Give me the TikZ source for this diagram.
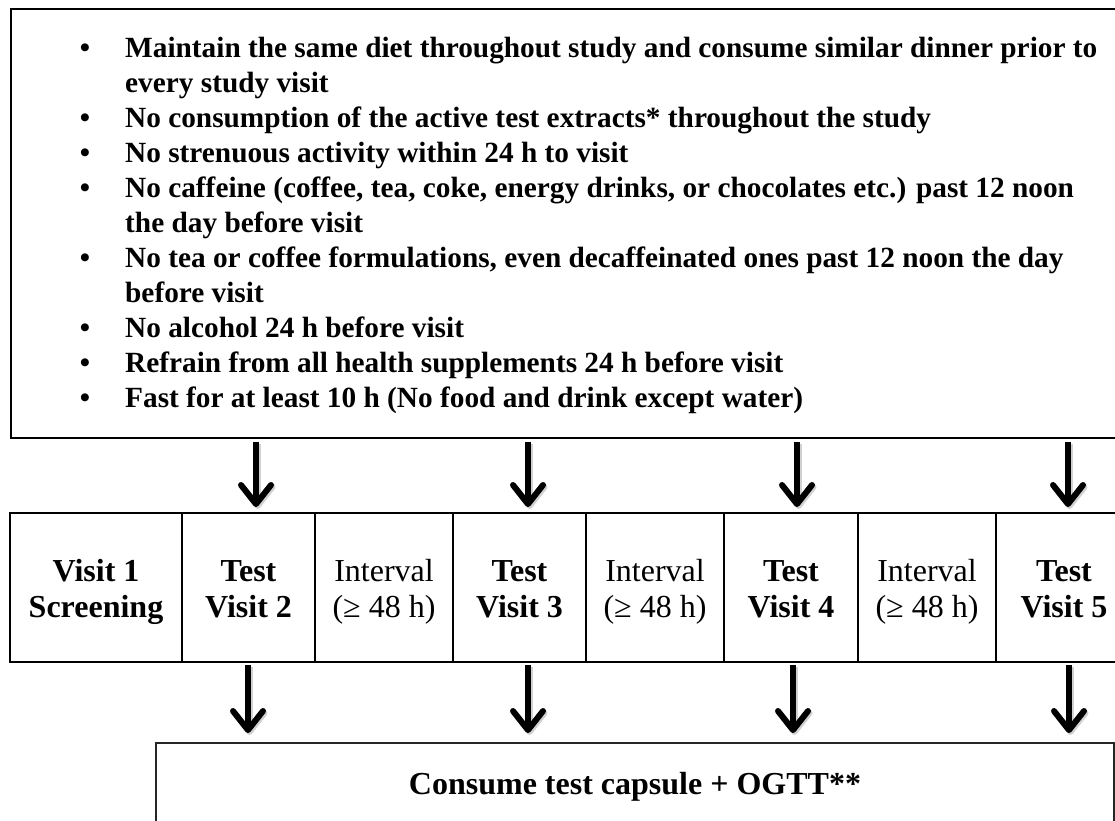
\documentclass[tikz,border=0pt]{standalone}
\usepackage{fontspec}
\setmainfont{Liberation Serif}
\usetikzlibrary{arrows.meta,calc}

\begin{document}
\begin{tikzpicture}[x=1pt,y=-1pt,
  frame/.style={draw=black, line width=2pt, inner sep=0pt, anchor=north west},
  bul/.style={font=\fontsize{29.3}{35}\selectfont\bfseries, inner sep=0pt, anchor=base},
  item/.style={font=\fontsize{29.3}{35}\selectfont\bfseries, inner sep=0pt, anchor=base west},
  cell/.style={draw=black, line width=2pt, minimum height=149pt, inner sep=0pt,
    align=center, text height=60pt, text depth=0pt, font=\fontsize{32}{36}\selectfont},
  visit/.style={cell, font=\fontsize{32}{36}\selectfont\bfseries},
  flow/.style={line width=5.5pt, line cap=butt,
    -{Straight Barb[length=19pt,width=30pt,line width=6pt,round]},
    preaction={draw=black!18, line width=6pt, transform canvas={shift={(1.5pt,-2pt)}}}},
]
\useasboundingbox (0,0) rectangle (1115,820);

% instructions before each visit
\node[frame, minimum width=1115pt, minimum height=429pt] (rules) at (10,8) {};
\node[bul] (b1) at (85,57) {•};
\node[item] (l1) at (125,57) {Maintain the same diet throughout study and consume similar dinner prior to};
\node[item] (l2) at (125,92) {every study visit};
\node[bul] (b3) at (85,127) {•};
\node[item] (l3) at (125,127) {No consumption of the active test extracts* throughout the study};
\node[bul] (b4) at (85,162) {•};
\node[item] (l4) at (125,162) {No strenuous activity within 24 h to visit};
\node[bul] (b5) at (85,197) {•};
\node[item] (l5) at (125,197) {No caffeine (coffee, tea, coke, energy drinks, or chocolates etc.) past 12 noon};
\node[item] (l6) at (125,232) {the day before visit};
\node[bul] (b7) at (85,267) {•};
\node[item] (l7) at (125,267) {No tea or coffee formulations, even decaffeinated ones past 12 noon the day};
\node[item] (l8) at (125,302) {before visit};
\node[bul] (b9) at (85,337) {•};
\node[item] (l9) at (125,337) {No alcohol 24 h before visit};
\node[bul] (b10) at (85,372) {•};
\node[item] (l10) at (125,372) {Refrain from all health supplements 24 h before visit};
\node[bul] (b11) at (85,407) {•};
\node[item] (l11) at (125,407) {Fast for at least 10 h (No food and drink except water)};

% visit timeline
\node[visit, minimum width=172pt] (c1) at (96,587.5) {Visit 1\\Screening};
\node[visit, minimum width=133pt] (c2) at (248.5,587.5) {Test\\Visit 2};
\node[cell,  minimum width=138pt] (c3) at (384,587.5) {Interval\\(≥ 48 h)};
\node[visit, minimum width=133pt] (c4) at (519.5,587.5) {Test\\Visit 3};
\node[cell,  minimum width=138pt] (c5) at (655,587.5) {Interval\\(≥ 48 h)};
\node[visit, minimum width=134pt] (c6) at (791,587.5) {Test\\Visit 4};
\node[cell,  minimum width=138pt] (c7) at (927,587.5) {Interval\\(≥ 48 h)};
\node[visit, minimum width=136pt] (c8) at (1064,587.5) {Test\\Visit 5};

% test-day procedure
\node[frame, draw=black!85, minimum width=958pt, minimum height=100pt] (ogtt) at (155,742) {};
\node[inner sep=0pt, anchor=base, font=\fontsize{32}{36}\selectfont\bfseries] (ogttlabel) at (635,794) {Consume test capsule + OGTT**};

% arrows: instructions -> test visits
\draw[flow] ($(rules.south -| c2.north)+(7.5,3)$) -- ($(c2.north)+(7.5,-5)$);
\draw[flow] ($(rules.south -| c4.north)+(8.5,3)$) -- ($(c4.north)+(8.5,-5)$);
\draw[flow] ($(rules.south -| c6.north)+(6,3)$) -- ($(c6.north)+(6,-5)$);
\draw[flow] ($(rules.south -| c8.north)+(4,3)$) -- ($(c8.north)+(4,-5)$);

% arrows: test visits -> capsule + OGTT
\draw[flow] ($(c2.south)+(-0.5,2)$) -- ($(ogtt.north -| c2.south)+(-0.5,-9)$);
\draw[flow] ($(c4.south)+(8.5,2)$) -- ($(ogtt.north -| c4.south)+(8.5,-9)$);
\draw[flow] ($(c6.south)+(2,2)$) -- ($(ogtt.north -| c6.south)+(2,-9)$);
\draw[flow] ($(c8.south)+(5,2)$) -- ($(ogtt.north -| c8.south)+(5,-9)$);
\end{tikzpicture}
\end{document}
